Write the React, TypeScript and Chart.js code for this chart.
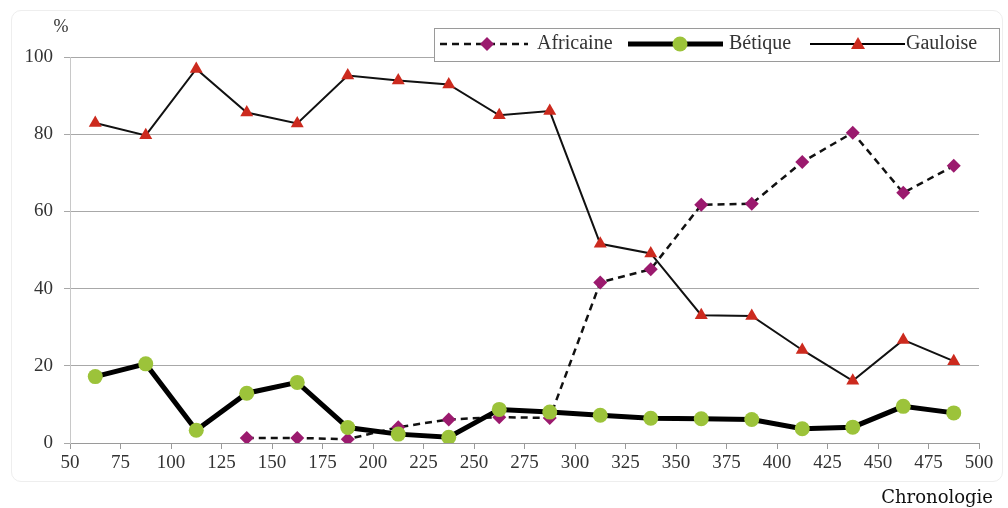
import React, { useEffect, useRef } from "react";
import { Chart, registerables } from "chart.js";

Chart.register(...registerables);

const xValues = [62.5, 87.5, 112.5, 137.5, 162.5, 187.5, 212.5, 237.5, 262.5, 287.5, 312.5, 337.5, 362.5, 387.5, 412.5, 437.5, 462.5, 487.5];
const africaine = [null, null, null, 1.3, 1.3, 1.0, 4.1, 6.1, 6.7, 6.5, 41.6, 45.0, 61.7, 62.0, 72.8, 80.4, 64.8, 71.8];
const betique = [17.2, 20.5, 3.3, 12.9, 15.7, 4.0, 2.3, 1.5, 8.7, 8.0, 7.2, 6.4, 6.3, 6.1, 3.7, 4.1, 9.5, 7.8];
const gauloise = [82.9, 79.7, 96.9, 85.6, 82.8, 95.2, 93.9, 92.9, 84.9, 86.0, 51.6, 49.1, 33.1, 32.9, 24.1, 16.1, 26.7, 21.2];
const seriesNames = ["Africaine", "Bétique", "Gauloise"];
const xTickMin = 50;
const xTickMax = 500;
const xTickStep = 25;
const yTickMin = 0;
const yTickMax = 100;
const yTickStep = 20;

const toPoints = (vals: (number | null)[]) =>
  xValues.map((x, i) => ({ x, y: vals[i] }));

const SERIF = "'Liberation Serif', 'Times New Roman', serif";
const PURPLE = "#9b1a6e";
const GREEN = "#9cc33a";
const RED = "#cc2a1e";

const overlayPlugin = {
  id: "overlay",
  afterDraw(chart: any) {
    const ctx = chart.ctx;
    ctx.save();
    // "%" label
    ctx.fillStyle = "#333";
    ctx.font = `18px ${SERIF}`;
    ctx.textAlign = "center";
    ctx.textBaseline = "middle";
    ctx.fillText("%", 61, 27);

    // legend box
    ctx.strokeStyle = "#9a9a9a";
    ctx.lineWidth = 1;
    ctx.fillStyle = "#fff";
    ctx.fillRect(434.5, 28.5, 565, 33);
    ctx.strokeRect(434.5, 28.5, 565, 33);
    const cy = 44;
    // Africaine
    ctx.strokeStyle = "#111";
    ctx.lineWidth = 2.5;
    ctx.setLineDash([7, 5]);
    ctx.beginPath();
    ctx.moveTo(440, cy);
    ctx.lineTo(528, cy);
    ctx.stroke();
    ctx.setLineDash([]);
    ctx.fillStyle = PURPLE;
    ctx.beginPath();
    ctx.moveTo(487, cy - 7);
    ctx.lineTo(494, cy);
    ctx.lineTo(487, cy + 7);
    ctx.lineTo(480, cy);
    ctx.closePath();
    ctx.fill();
    // Bétique
    ctx.strokeStyle = "#000";
    ctx.lineWidth = 5;
    ctx.beginPath();
    ctx.moveTo(628, cy);
    ctx.lineTo(723, cy);
    ctx.stroke();
    ctx.fillStyle = GREEN;
    ctx.beginPath();
    ctx.arc(680, cy, 7.5, 0, Math.PI * 2);
    ctx.fill();
    // Gauloise
    ctx.strokeStyle = "#000";
    ctx.lineWidth = 2;
    ctx.beginPath();
    ctx.moveTo(810, cy);
    ctx.lineTo(905, cy);
    ctx.stroke();
    ctx.fillStyle = RED;
    ctx.beginPath();
    ctx.moveTo(858, cy - 7);
    ctx.lineTo(865, cy + 5);
    ctx.lineTo(851, cy + 5);
    ctx.closePath();
    ctx.fill();

    ctx.fillStyle = "#333";
    ctx.font = `20px ${SERIF}`;
    ctx.textAlign = "left";
    ctx.textBaseline = "middle";
    ctx.fillText(seriesNames[0], 537, cy);
    ctx.fillText(seriesNames[1], 729, cy);
    ctx.fillText(seriesNames[2], 906, cy);

    // x axis title
    ctx.fillStyle = "#111";
    ctx.font = `18px 'DejaVu Serif', serif`;
    ctx.textAlign = "right";
    ctx.fillText("Chronologie", 993, 498);
    ctx.restore();
  },
};

export default function App() {
  const canvasRef = useRef<HTMLCanvasElement | null>(null);

  useEffect(() => {
    if (!canvasRef.current) return;
    const chart = new Chart(canvasRef.current, {
      type: "line",
      data: {
        datasets: [
          {
            label: seriesNames[1],
            data: toPoints(betique),
            borderColor: "#000",
            borderWidth: 5,
            pointStyle: "circle",
            pointRadius: 7.5,
            pointBackgroundColor: GREEN,
            pointBorderColor: GREEN,
            pointBorderWidth: 0,
            order: 0,
          },
          {
            label: seriesNames[2],
            data: toPoints(gauloise),
            borderColor: "#111",
            borderWidth: 2,
            pointStyle: "triangle",
            pointRadius: 7.5,
            pointBackgroundColor: RED,
            pointBorderColor: RED,
            pointBorderWidth: 0,
            order: 1,
          },
          {
            label: seriesNames[0],
            data: toPoints(africaine),
            borderColor: "#111",
            borderWidth: 2.5,
            borderDash: [7, 5],
            pointStyle: "rectRot",
            pointRadius: 7,
            pointBackgroundColor: PURPLE,
            pointBorderColor: PURPLE,
            pointBorderWidth: 0,
            spanGaps: false,
            order: 2,
          },
        ],
      },
      options: {
        animation: false,
        responsive: false,
        maintainAspectRatio: false,
        layout: { padding: { top: 57, right: 29, bottom: 0, left: 0 } },
        plugins: { legend: { display: false }, tooltip: { enabled: false } },
        scales: {
          x: {
            type: "linear",
            min: xTickMin,
            max: xTickMax,
            ticks: {
              stepSize: xTickStep,
              color: "#333",
              font: { family: SERIF, size: 19 },
              padding: 3,
              maxRotation: 0,
              autoSkip: false,
            },
            grid: {
              drawOnChartArea: false,
              drawTicks: true,
              tickLength: 6,
              color: "#9a9a9a",
            },
            border: { color: "#9a9a9a", width: 1 },
            afterFit: (scale: any) => {
              scale.height = 65;
            },
          },
          y: {
            min: yTickMin,
            max: yTickMax,
            ticks: {
              stepSize: yTickStep,
              color: "#333",
              font: { family: SERIF, size: 19 },
              padding: 11,
            },
            grid: {
              color: "#a8a8a8",
              lineWidth: 1,
              drawTicks: true,
              tickLength: 6,
            },
            border: { color: "#c8c8c8", width: 1 },
            afterFit: (scale: any) => {
              scale.width = 70;
            },
          },
        },
      },
      plugins: [overlayPlugin],
    });
    return () => chart.destroy();
  }, []);

  return (
    <div
      style={{
        position: "fixed",
        left: 0,
        top: 0,
        width: 1008,
        height: 508,
        background: "#fff",
      }}
    >
      <div
        style={{
          position: "absolute",
          left: 11,
          top: 10,
          width: 990,
          height: 470,
          border: "1px solid #eeeeee",
          borderRadius: 10,
        }}
      />
      <canvas
        ref={canvasRef}
        width={1008}
        height={508}
        style={{ position: "absolute", left: 0, top: 0, width: 1008, height: 508 }}
      />
    </div>
  );
}
